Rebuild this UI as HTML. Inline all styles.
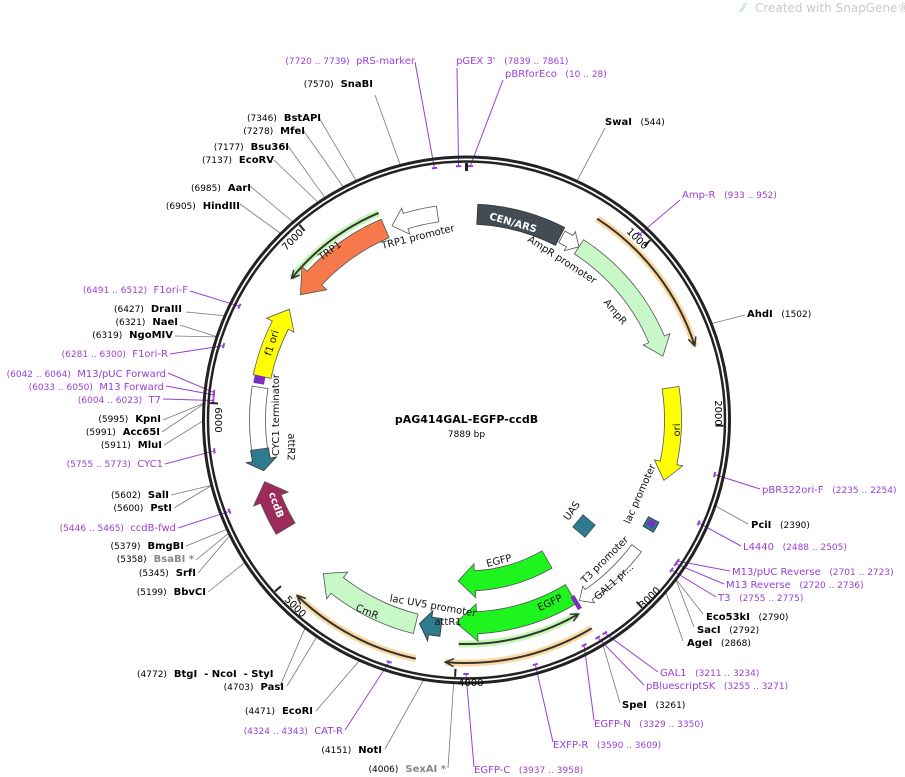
<!DOCTYPE html>
<html><head><meta charset="utf-8"><style>
html,body{margin:0;padding:0;background:#fff;width:905px;height:777px;overflow:hidden}
svg{display:block;font-family:"DejaVu Sans","Liberation Sans",sans-serif}
text{white-space:pre}
.n{font-size:9px;fill:#000}.b{font-size:10px;font-weight:bold;fill:#000}
.p{font-size:10px;fill:#9a3fd6}.pn{font-size:9px;fill:#9a3fd6}
.g{font-size:10px;font-weight:bold;fill:#888}
.f{font-size:10px;fill:#111}
</style></head><body>
<svg id="s" width="905" height="777" viewBox="0 0 905 777" xmlns="http://www.w3.org/2000/svg" xml:space="preserve">
<g id="lines"></g>
<circle cx="466.5" cy="420" r="263" fill="none" stroke="#222" stroke-width="3"/>
<circle cx="466.5" cy="420" r="258.5" fill="none" stroke="#222" stroke-width="2.5"/>
<g id="feat"></g>
<text x="755" y="12" style="font-size:12px;fill:#c9c9c9">Created with SnapGene®</text>
<text x="741" y="12" style="font-size:12px;fill:#9fd3e6">⁄⁄</text>

<text x="466.5" y="423" text-anchor="middle" style="font-size:11px;font-weight:bold">pAG414GAL-EGFP-ccdB</text>
<text x="466.5" y="437" text-anchor="middle" style="font-size:9px">7889 bp</text>

<text x="458" y="686" style="font-size:10px">4000</text>
<text transform="translate(635,241) rotate(45)" style="font-size:10px" text-anchor="middle">1000</text>
<text transform="translate(715,413) rotate(90)" style="font-size:10px" text-anchor="middle">2000</text>
<text transform="translate(652,600) rotate(-45)" style="font-size:10px" text-anchor="middle">3000</text>
<text transform="translate(293,609) rotate(45)" style="font-size:10px" text-anchor="middle">5000</text>
<text transform="translate(215,420) rotate(90)" style="font-size:10px" text-anchor="middle">6000</text>
<text transform="translate(295,242) rotate(-45)" style="font-size:10px" text-anchor="middle">7000</text>

<g class="f" text-anchor="middle" dominant-baseline="middle">
<text transform="translate(513,223) rotate(16)" style="fill:#fff;font-weight:bold;font-size:10px">CEN/ARS</text>
<text transform="translate(562,260) rotate(33)">AmpR promoter</text>
<text transform="translate(615,312) rotate(50)">AmpR</text>
<text transform="translate(677,430) rotate(-90)">ori</text>
<text transform="translate(640,494) rotate(-66)">lac promoter</text>
<text transform="translate(572,511) rotate(-55)">UAS</text>
<text transform="translate(605,560) rotate(-45)">T3 promoter</text>
<text transform="translate(614,582) rotate(-42)">GAL1 pr...</text>
<text transform="translate(499,561) rotate(-14)">EGFP</text>
<text transform="translate(550,603) rotate(-25)">EGFP</text>
<text transform="translate(433,606) rotate(10)">lac UV5 promoter</text>
<text transform="translate(448,622)">attR1</text>
<text transform="translate(367,612) rotate(23)">CmR</text>
<text transform="translate(276,505) rotate(70)" style="fill:#fff;font-weight:bold">ccdB</text>
<text transform="translate(291,447) rotate(92)">attR2</text>
<text transform="translate(276,415) rotate(-90)">CYC1 terminator</text>
<text transform="translate(272,343) rotate(-72)">f1 ori</text>
<text transform="translate(330,251) rotate(-36)">TRP1</text>
<text transform="translate(418,237) rotate(-14)">TRP1 promoter</text>
</g>

<g text-anchor="end">
<text x="188" y="293"><tspan class="pn">(6491 .. 6512)</tspan><tspan class="p">  F1ori-F</tspan></text>
<text x="182" y="312"><tspan class="n">(6427)</tspan><tspan class="b">  DraIII</tspan></text>
<text x="178" y="325"><tspan class="n">(6321)</tspan><tspan class="b">  NaeI</tspan></text>
<text x="173" y="338"><tspan class="n">(6319)</tspan><tspan class="b">  NgoMIV</tspan></text>
<text x="168" y="357"><tspan class="pn">(6281 .. 6300)</tspan><tspan class="p">  F1ori-R</tspan></text>
<text x="166" y="377"><tspan class="pn">(6042 .. 6064)</tspan><tspan class="p">  M13/pUC Forward</tspan></text>
<text x="164" y="390"><tspan class="pn">(6033 .. 6050)</tspan><tspan class="p">  M13 Forward</tspan></text>
<text x="161" y="403"><tspan class="pn">(6004 .. 6023)</tspan><tspan class="p">  T7</tspan></text>
<text x="161" y="422"><tspan class="n">(5995)</tspan><tspan class="b">  KpnI</tspan></text>
<text x="160" y="435"><tspan class="n">(5991)</tspan><tspan class="b">  Acc65I</tspan></text>
<text x="162" y="448"><tspan class="n">(5911)</tspan><tspan class="b">  MluI</tspan></text>
<text x="163" y="467"><tspan class="pn">(5755 .. 5773)</tspan><tspan class="p">  CYC1</tspan></text>
<text x="169" y="498"><tspan class="n">(5602)</tspan><tspan class="b">  SalI</tspan></text>
<text x="172" y="511"><tspan class="n">(5600)</tspan><tspan class="b">  PstI</tspan></text>
<text x="176" y="531"><tspan class="pn">(5446 .. 5465)</tspan><tspan class="p">  ccdB-fwd</tspan></text>
<text x="184" y="549"><tspan class="n">(5379)</tspan><tspan class="b">  BmgBI</tspan></text>
<text x="194" y="562"><tspan class="n">(5358)</tspan><tspan class="g">  BsaBI *</tspan></text>
<text x="196" y="576"><tspan class="n">(5345)</tspan><tspan class="b">  SrfI</tspan></text>
<text x="206" y="595"><tspan class="n">(5199)</tspan><tspan class="b">  BbvCI</tspan></text>
<text x="284" y="690"><tspan class="n">(4703)</tspan><tspan class="b">  PasI</tspan></text>
<text x="313" y="714"><tspan class="n">(4471)</tspan><tspan class="b">  EcoRI</tspan></text>
<text x="343" y="734"><tspan class="pn">(4324 .. 4343)</tspan><tspan class="p">  CAT-R</tspan></text>
<text x="382" y="753"><tspan class="n">(4151)</tspan><tspan class="b">  NotI</tspan></text>
<text x="446" y="772"><tspan class="n">(4006)</tspan><tspan class="g">  SexAI *</tspan></text>
<text x="415" y="64"><tspan class="pn">(7720 .. 7739)</tspan><tspan class="p">  pRS-marker</tspan></text>
<text x="373" y="87"><tspan class="n">(7570)</tspan><tspan class="b">  SnaBI</tspan></text>
<text x="321" y="121"><tspan class="n">(7346)</tspan><tspan class="b">  BstAPI</tspan></text>
<text x="305" y="134"><tspan class="n">(7278)</tspan><tspan class="b">  MfeI</tspan></text>
<text x="289" y="150"><tspan class="n">(7177)</tspan><tspan class="b">  Bsu36I</tspan></text>
<text x="274" y="163"><tspan class="n">(7137)</tspan><tspan class="b">  EcoRV</tspan></text>
<text x="251" y="191"><tspan class="n">(6985)</tspan><tspan class="b">  AarI</tspan></text>
<text x="240" y="209"><tspan class="n">(6905)</tspan><tspan class="b">  HindIII</tspan></text>
</g>
<text x="137" y="677"><tspan class="n">(4772)</tspan><tspan class="b">  BtgI  - NcoI  - StyI</tspan></text>
<text x="456" y="64"><tspan class="p">pGEX 3'</tspan><tspan class="pn">   (7839 .. 7861)</tspan></text>
<text x="505" y="77"><tspan class="p">pBRforEco</tspan><tspan class="pn">   (10 .. 28)</tspan></text>
<text x="605" y="125"><tspan class="b">SwaI</tspan><tspan class="n">   (544)</tspan></text>
<text x="682" y="198"><tspan class="p">Amp-R</tspan><tspan class="pn">   (933 .. 952)</tspan></text>
<text x="747" y="317"><tspan class="b">AhdI</tspan><tspan class="n">   (1502)</tspan></text>
<text x="762" y="493"><tspan class="p">pBR322ori-F</tspan><tspan class="pn">   (2235 .. 2254)</tspan></text>
<text x="751" y="528"><tspan class="b">PciI</tspan><tspan class="n">   (2390)</tspan></text>
<text x="743" y="550"><tspan class="p">L4440</tspan><tspan class="pn">   (2488 .. 2505)</tspan></text>
<text x="732" y="575"><tspan class="p">M13/pUC Reverse</tspan><tspan class="pn">   (2701 .. 2723)</tspan></text>
<text x="726" y="588"><tspan class="p">M13 Reverse</tspan><tspan class="pn">   (2720 .. 2736)</tspan></text>
<text x="718" y="601"><tspan class="p">T3</tspan><tspan class="pn">   (2755 .. 2775)</tspan></text>
<text x="706" y="620"><tspan class="b">Eco53kI</tspan><tspan class="n">   (2790)</tspan></text>
<text x="697" y="633"><tspan class="b">SacI</tspan><tspan class="n">   (2792)</tspan></text>
<text x="687" y="646"><tspan class="b">AgeI</tspan><tspan class="n">   (2868)</tspan></text>
<text x="660" y="676"><tspan class="p">GAL1</tspan><tspan class="pn">   (3211 .. 3234)</tspan></text>
<text x="646" y="689"><tspan class="p">pBluescriptSK</tspan><tspan class="pn">   (3255 .. 3271)</tspan></text>
<text x="622" y="708"><tspan class="b">SpeI</tspan><tspan class="n">   (3261)</tspan></text>
<text x="594" y="727"><tspan class="p">EGFP-N</tspan><tspan class="pn">   (3329 .. 3350)</tspan></text>
<text x="553" y="748"><tspan class="p">EXFP-R</tspan><tspan class="pn">   (3590 .. 3609)</tspan></text>
<text x="474" y="773"><tspan class="p">EGFP-C</tspan><tspan class="pn">   (3937 .. 3958)</tspan></text>
</svg>
<script>
var cx=466.5,cy=420,N=7889,NS="http://www.w3.org/2000/svg";
function P(r,a){a=a*Math.PI/180;return [cx+r*Math.sin(a),cy-r*Math.cos(a)];}
function pt(p){return p[0].toFixed(1)+","+p[1].toFixed(1);}
function add(g,tag,at){var e=document.createElementNS(NS,tag);for(var k in at)e.setAttribute(k,at[k]);document.getElementById(g).appendChild(e);return e;}
function arc(r,a1,a2){return "A"+r+","+r+" 0 "+((Math.abs(a2-a1))>180?1:0)+" "+(a2>a1?1:0)+" "+pt(P(r,a2));}
function arrow(r1,r2,a1,a2,dir,fill,stroke,h){
  h=h||4;var w=(r2-r1)*0.35,m=(r1+r2)/2,d;
  if(dir==1){var b=a2-h;d="M"+pt(P(r2,a1))+arc(r2,a1,b)+"L"+pt(P(r2+w,b))+"L"+pt(P(m,a2))+"L"+pt(P(r1-w,b))+"L"+pt(P(r1,b))+arc(r1,b,a1)+"Z";}
  else if(dir==-1){var b=a1+h;d="M"+pt(P(r2,a2))+arc(r2,a2,b)+"L"+pt(P(r2+w,b))+"L"+pt(P(m,a1))+"L"+pt(P(r1-w,b))+"L"+pt(P(r1,b))+arc(r1,b,a2)+"Z";}
  else{d="M"+pt(P(r2,a1))+arc(r2,a1,a2)+"L"+pt(P(r1,a2))+arc(r1,a2,a1)+"Z";}
  add("feat","path",{d:d,fill:fill,stroke:stroke||"#555","stroke-width":0.8});
}
function pline(r,a1,a2,dir,glow){
  add("feat","path",{d:"M"+pt(P(r,a1))+arc(r,a1,a2),fill:"none",stroke:glow,"stroke-width":7,"stroke-opacity":0.8});
  add("feat","path",{d:"M"+pt(P(r,a1))+arc(r,a1,a2),fill:"none",stroke:"#333","stroke-width":2});
  var t=dir==1?a2:a1,b=dir==1?a2-2:a1+2;
  add("feat","path",{d:"M"+pt(P(r-4,b))+"L"+pt(P(r,t))+"L"+pt(P(r+4,b)),fill:"none",stroke:"#333","stroke-width":1.5});
}
[1000,2000,3000,4000,5000,6000,7000].forEach(function(p){var a=p/N*360;add("feat","path",{d:"M"+pt(P(257,a))+"L"+pt(P(249,a)),stroke:"#222","stroke-width":2});});
add("feat","path",{d:"M"+pt(P(257,0))+"L"+pt(P(249,0)),stroke:"#222","stroke-width":3});
pline(240,33,72,1,"#fbcf8a");
pline(224,150,182,-1,"#b4f5a0");
pline(243,149,185,1,"#fbcf8a");
pline(244,192,224,1,"#fbcf8a");
pline(225,309,337,-1,"#b4f5a0");
arrow(196,216,3,27,0,"#434b55","#333");
arrow(200,213,27.5,33,1,"#fff","#555",3);
arrow(198,215,33,72,1,"#c8f7c8","#555",5);
arrow(198,215,81,107,1,"#ffff00","#555",5);
arrow(207,219,127,148,1,"#fff","#555",3);
arrow(192,214,149,183,1,"#1ef51e","#555",6);
arrow(151,171,150,183,1,"#1ef51e","#555",6);
arrow(200,218,187,193,1,"#2e7a8e","#333",3);
arrow(200,220,194,223,1,"#c8f7c8","#555",5);
arrow(200,222,239,253,1,"#9c2b5c","#555",5);
arrow(200,218,256,262,-1,"#2e7a8e","#333",3);
arrow(201,217,262,279,0,"#fff","#555");
arrow(200,218,282,302,1,"#ffff00","#555",5);
arrow(198,218,307,337,-1,"#f5794b","#555",6);
arrow(200,216,339,352,-1,"#fff","#555",4);
arrow(206,218,118,121,0,"#2e7a8e","#333");
arrow(209,215,118.5,120,0,"#7a2fc0","#7a2fc0");
arrow(206,216,280,282,0,"#7a2fc0","#7a2fc0");
arrow(206,220,148.5,149.5,0,"#7a2fc0","#7a2fc0");
add("feat","rect",{x:-8,y:-8,width:16,height:16,fill:"#2e7a8e",stroke:"#333","stroke-width":0.6,transform:"translate(584,526) rotate(40)"});
var L=[[186,312,6427],[180,325,6321],[175,336,6319],[163,420,5995],[162,432,5991],[164,445,5911],[171,495,5602],[174,508,5600],[186,546,5379],[196,560,5358],[198,573,5345],[208,592,5199],[280,686,4772],[287,686,4703],[316,711,4471],[385,749,4151],[448,768,4006],[375,95,7570],[318,116,7346],[303,130,7278],[288,146,7177],[274,160,7137],[250,186,6985],[240,204,6905],[605,128,544],[745,315,1502],[748,524,2390],[703,614,2790],[694,627,2792],[683,641,2868],[620,703,3261]];
L.forEach(function(l){var q=P(264,l[2]/N*360);add("lines","path",{d:"M"+l[0]+","+l[1]+"L"+pt(q),stroke:"#777","stroke-width":0.8,fill:"none"});});
var PL=[[190,291,6500],[170,354,6290],[168,373,6053],[166,386,6041],[163,399,6013],[165,464,5764],[178,528,5455],[345,730,4333],[415,62,7730],[457,68,7850],[503,80,19],[680,200,942],[760,489,2244],[741,546,2496],[730,571,2712],[724,584,2728],[716,597,2765],[658,672,3222],[644,685,3263],[594,720,3340],[553,742,3600],[474,767,3947]];
PL.forEach(function(l){var a=l[2]/N*360,q=P(254,a);add("lines","path",{d:"M"+l[0]+","+l[1]+"L"+pt(q),stroke:"#9a3fd6","stroke-width":1,fill:"none"});
 add("lines","path",{d:"M"+pt(P(254,a-0.6))+"L"+pt(P(254,a+0.6)),stroke:"#9a3fd6","stroke-width":2});});
</script>
</body></html>
